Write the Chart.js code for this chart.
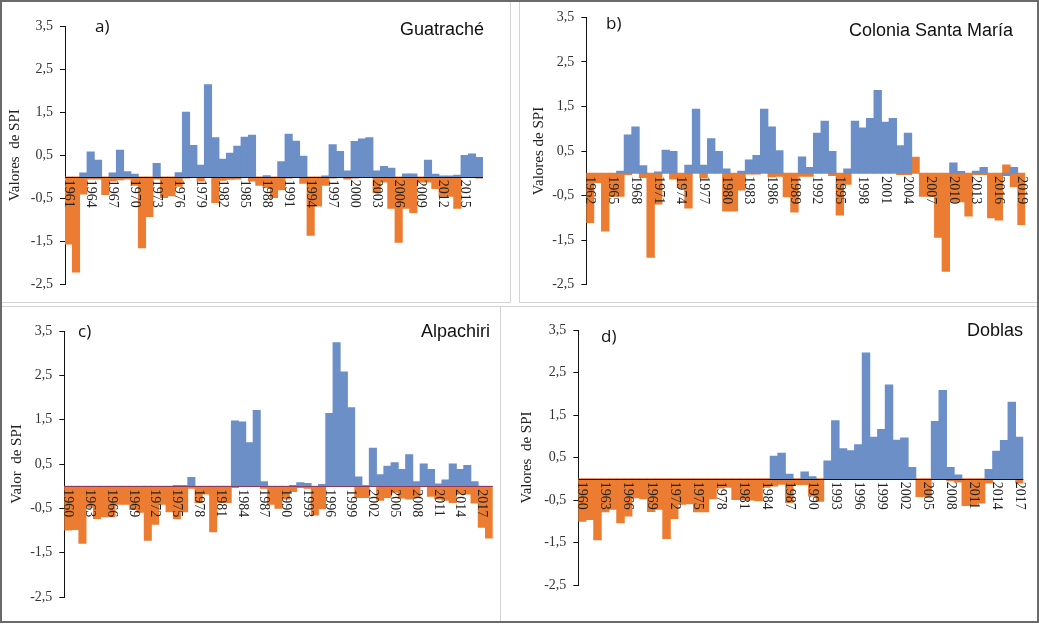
<!DOCTYPE html>
<html>
<head>
<meta charset="utf-8">
<script src="https://cdn.jsdelivr.net/npm/chart.js@4.4.1/dist/chart.umd.min.js"></script>
<style>
  html, body { margin:0; padding:0; background:#fff; }
  body { width:1039px; height:624px; position:relative; overflow:hidden; }
  .frame { position:absolute; left:0; top:0; width:1039px; height:623px; box-sizing:border-box; border:2px solid #6a6a6a; border-right-width:2px; }
  .panel { position:absolute; box-sizing:border-box; border:0 solid #d4d4d4; }
  canvas { position:absolute; }
  .lab { position:absolute; font-family:"Open Sans", sans-serif; font-size:17px; line-height:17px; color:#111; white-space:nowrap; }
  .name { position:absolute; font-family:"Liberation Sans", Arial, sans-serif; font-size:18px; line-height:18px; color:#111; white-space:nowrap; }
</style>
</head>
<body>
<div class="panel" style="left:0;top:0;width:511px;height:303px;border-right-width:1px;border-bottom-width:1px;"></div>
<div class="panel" style="left:519px;top:0;width:520px;height:303px;border-left-width:1px;border-bottom-width:1px;"></div>
<div class="panel" style="left:0;top:306px;width:501px;height:317px;border-top-width:1px;border-right-width:1px;"></div>
<div class="panel" style="left:500px;top:306px;width:539px;height:317px;border-top-width:1px;border-left-width:1px;"></div>
<div class="frame"></div>

<canvas id="ca" width="506" height="298" style="left:2px;top:2px;"></canvas>
<canvas id="cb" width="514" height="298" style="left:521px;top:2px;"></canvas>
<canvas id="cc" width="497" height="312" style="left:2px;top:308px;"></canvas>
<canvas id="cd" width="533" height="312" style="left:502px;top:308px;"></canvas>

<div class="lab" style="left:95px;top:17px;">a)</div>
<div class="name" style="left:400px;top:20px;">Guatraché</div>
<div class="lab" style="left:606px;top:14px;">b)</div>
<div class="name" style="left:849px;top:21px;">Colonia Santa María</div>
<div class="lab" style="left:78px;top:322px;">c)</div>
<div class="name" style="left:421px;top:322px;">Alpachiri</div>
<div class="lab" style="left:601px;top:327px;">d)</div>
<div class="name" style="left:967px;top:321px;">Doblas</div>

<script>
// ---------- Panel a: Guatraché ----------
const yearsA = [1961,1962,1963,1964,1965,1966,1967,1968,1969,1970,1971,1972,1973,1974,1975,1976,1977,1978,1979,1980,
  1981,1982,1983,1984,1985,1986,1987,1988,1989,1990,1991,1992,1993,1994,1995,1996,1997,1998,1999,2000,
  2001,2002,2003,2004,2005,2006,2007,2008,2009,2010,2011,2012,2013,2014,2015,2016,2017];
const wetA = [0,0,0.09,0.58,0.39,0,0.09,0.62,0.12,0.06,
  0,0,0.31,0,0,0.1,1.5,0.73,0.27,2.14,
  0.91,0.41,0.55,0.71,0.92,0.97,0,0.03,0,0.35,
  0.99,0.83,0.48,0,0,0.02,0.75,0.59,0.14,0.82,
  0.88,0.91,0.14,0.24,0.2,0,0.07,0.07,0,0.39,
  0.06,0.02,0.02,0.04,0.5,0.53,0.45];
const dryA = [-1.56,-2.21,-0.4,-0.05,-0.05,-0.41,-0.1,-0.07,-0.05,-0.2,
  -1.65,-0.92,-0.05,-0.48,-0.44,-0.22,-0.03,0,-0.1,0,
  -0.6,-0.08,-0.06,-0.05,-0.02,-0.1,-0.2,-0.25,-0.48,-0.3,
  -0.03,0,-0.15,-1.36,-0.68,-0.2,-0.03,0,-0.05,-0.03,
  0,0,-0.37,-0.12,-0.73,-1.52,-0.73,-0.83,-0.12,-0.12,
  -0.27,-0.45,-0.45,-0.73,-0.02,0,-0.03];
const ticksA = [1961,1964,1967,1970,1973,1976,1979,1982,1985,1988,1991,1994,1997,2000,2003,2006,2009,2012,2015];

// ---------- Panel b: Colonia Santa María ----------
const yearsB = [1962,1963,1964,1965,1966,1967,1968,1969,1970,1971,1972,1973,1974,1975,1976,1977,1978,1979,1980,1981,
  1982,1983,1984,1985,1986,1987,1988,1989,1990,1991,1992,1993,1994,1995,1996,1997,1998,1999,2000,2001,
  2002,2003,2004,2005,2006,2007,2008,2009,2010,2011,2012,2013,2014,2015,2016,2017,2018,2019];
const wetB = [0,0,0,0,0.05,0.86,1.04,0.17,0,0.03,
  0.52,0.49,0,0.18,1.44,0.18,0.78,0.49,0.1,0,
  0.05,0.3,0.4,1.44,1.04,0.51,0,0,0.37,0.13,
  0.9,1.17,0.49,0,0.1,1.17,1.02,1.23,1.86,1.15,
  1.23,0.62,0.9,0,0,0,0,0,0.23,0.04,
  0,0.05,0.13,0,0,-0.05,0.13,0];
const dryB = [-1.11,-0.21,-1.3,-0.52,-0.52,-0.03,0,-0.1,-1.89,-0.69,
  0,-0.13,-0.32,-0.78,0,-0.11,0,0,-0.85,-0.85,
  -0.38,-0.02,-0.02,0,-0.08,-0.07,-0.53,-0.87,-0.07,-0.07,
  0,0,-0.05,-0.94,-0.25,0,0,0,0,0,
  0,-0.03,-0.03,0.36,-0.52,-0.52,-1.44,-2.2,-0.64,-0.64,
  -0.96,-0.03,-0.03,-1.0,-1.05,0.19,-0.3,-1.15];
const ticksB = [1962,1965,1968,1971,1974,1977,1980,1983,1986,1989,1992,1995,1998,2001,2004,2007,2010,2013,2016,2019];

// ---------- Panel c: Alpachiri ----------
const yearsC = [1960,1961,1962,1963,1964,1965,1966,1967,1968,1969,1970,1971,1972,1973,1974,1975,1976,1977,1978,1979,
  1980,1981,1982,1983,1984,1985,1986,1987,1988,1989,1990,1991,1992,1993,1994,1995,1996,1997,1998,1999,
  2000,2001,2002,2003,2004,2005,2006,2007,2008,2009,2010,2011,2012,2013,2014,2015,2016,2017,2018];
const wetC = [0,0,0,0,0,0,0,0,0,0,
  0,0,0,0,0,0.02,0.02,0.2,0,0,
  0,0,0,1.47,1.45,0.98,1.71,0.1,0,0,
  0,0.02,0.08,0.06,0,0.04,1.64,3.24,2.58,1.77,
  0.21,0.02,0.86,0.26,0.45,0.53,0.38,0.71,0.1,0.5,
  0.38,0.05,0.14,0.5,0.38,0.47,0.1,0,0];
const dryC = [-0.99,-0.98,-1.29,-0.48,-0.73,-0.69,-0.69,-0.41,-0.41,-0.53,
  -0.59,-1.22,-0.86,-0.41,-0.58,-0.74,-0.58,-0.05,-0.37,-0.18,
  -1.03,-0.37,-0.37,-0.03,0,0,0,-0.05,-0.41,-0.5,
  -0.29,-0.12,-0.03,-0.05,-0.65,-0.51,0,0,0,0,
  -0.26,-0.26,0,-0.32,-0.26,-0.14,-0.27,-0.29,-0.26,0,
  -0.23,-0.29,-0.32,-0.37,-0.18,-0.18,-0.38,-0.93,-1.17];
const ticksC = [1960,1963,1966,1969,1972,1975,1978,1981,1984,1987,1990,1993,1996,1999,2002,2005,2008,2011,2014,2017];

// ---------- Panel d: Doblas ----------
const yearsD = [1960,1961,1962,1963,1964,1965,1966,1967,1968,1969,1970,1971,1972,1973,1974,1975,1976,1977,1978,1979,
  1980,1981,1982,1983,1984,1985,1986,1987,1988,1989,1990,1991,1992,1993,1994,1995,1996,1997,1998,1999,
  2000,2001,2002,2003,2004,2005,2006,2007,2008,2009,2010,2011,2012,2013,2014,2015,2016,2017];
const wetD = [0,0,0,0,0,0,0,0,0,0,
  0,0,0,0,0,0,0,0,0,0,
  0,0,0,0,0,0.53,0.6,0.11,0,0.16,
  0.05,0,0.42,1.37,0.71,0.66,0.8,2.96,0.98,1.16,
  2.21,0.91,0.96,0.27,0,0,1.35,2.08,0.27,0.09,
  0,0,0,0.22,0.65,0.9,1.8,0.98];
const dryD = [-1.0,-0.96,-1.44,-0.78,-0.72,-1.04,-0.88,-0.45,-0.47,-0.77,
  -0.72,-1.41,-0.94,-0.6,-0.59,-0.78,-0.78,-0.47,-0.22,-0.2,
  -0.49,-0.49,-0.5,-0.52,-0.2,-0.17,-0.13,-0.56,-0.14,-0.14,
  -0.41,-0.53,-0.02,0,0,0,-0.02,0,0,0,
  0,0,0,-0.02,-0.42,-0.42,0,0,-0.05,-0.08,
  -0.63,-0.63,-0.57,-0.1,0,0,0,-0.1];
const ticksD = [1960,1963,1966,1969,1972,1975,1978,1981,1984,1987,1990,1993,1996,1999,2002,2005,2008,2011,2014,2017];

const BLUE = '#6b8fc6';
const ORANGE = '#eb7c31';

const xLabelPlugin = {
  id: 'xlab',
  afterDatasetsDraw(chart, args, opts) {
    const {ctx, chartArea} = chart;
    const xs = chart.scales.x, ys = chart.scales.y;
    const y0 = ys.getPixelForValue(0);
    if (opts.zeroColor) {
      ctx.save();
      ctx.strokeStyle = opts.zeroColor;
      ctx.lineWidth = 1;
      ctx.beginPath();
      ctx.moveTo(chartArea.left, Math.round(y0) + 0.5);
      ctx.lineTo(chartArea.right, Math.round(y0) + 0.5);
      ctx.stroke();
      ctx.restore();
    }
    ctx.save();
    ctx.font = '14px "Liberation Serif", "Times New Roman", serif';
    ctx.fillStyle = '#222';
    ctx.textAlign = 'left';
    ctx.textBaseline = 'middle';
    opts.ticks.forEach(t => {
      const i = opts.years.indexOf(t);
      if (i < 0) return;
      const px = xs.getPixelForValue(i);
      ctx.save();
      ctx.translate(px, y0 + 3);
      ctx.rotate(Math.PI / 2);
      ctx.fillText(String(t), 0, 0);
      ctx.restore();
    });
    ctx.restore();
  }
};

function makePanel(id, years, wet, dry, ticks, yTitle, lay) {
  const nz = v => (v === 0 ? null : v);
  new Chart(document.getElementById(id), {
    type: 'bar',
    data: {
      labels: years.map(String),
      datasets: [
        { data: wet.map(nz), backgroundColor: BLUE, borderWidth: 0, categoryPercentage: 1, barPercentage: 1, inflateAmount: 0.4 },
        { data: dry.map(nz), backgroundColor: ORANGE, borderWidth: 0, categoryPercentage: 1, barPercentage: 1, inflateAmount: 0.4 }
      ]
    },
    options: {
      responsive: false,
      animation: false,
      events: [],
      layout: { padding: { left: lay.pl, top: lay.pt, right: lay.pr, bottom: lay.pb } },
      plugins: {
        legend: { display: false },
        tooltip: { enabled: false },
        xlab: { years: years, ticks: ticks, zeroColor: lay.zero }
      },
      scales: {
        x: { type: 'category', display: false, stacked: true, offset: true },
        y: {
          stacked: false,
          min: -2.5, max: 3.5,
          afterFit(scale) { scale.width = lay.aw; },
          ticks: {
            stepSize: 1,
            padding: 7,
            color: '#333',
            font: { family: '"Liberation Serif", "Times New Roman", serif', size: 14 },
            callback: v => Number(v).toFixed(1).replace('.', ',')
          },
          grid: { drawOnChartArea: false, drawTicks: true, tickLength: 5, color: '#111' },
          border: { display: true, color: '#111', width: 1 },
          title: {
            display: true, text: yTitle, color: '#222',
            font: { family: '"Liberation Serif", "Times New Roman", serif', size: 15 },
            padding: { top: 0, bottom: 0 }
          }
        }
      }
    },
    plugins: [xLabelPlugin]
  });
}

makePanel('ca', yearsA, wetA, dryA, ticksA, 'Valores  de SPI', { pl: 4, aw: 59, pt: 24, pb: 11, pr: 25, zero: '#111' });
makePanel('cb', yearsB, wetB, dryB, ticksB, 'Valores de SPI', { pl: 9, aw: 56.3, pt: 9.3, pb: 14.7, pr: 9.7, zero: null });
makePanel('cc', yearsC, wetC, dryC, ticksC, 'Valor  de SPI', { pl: 6.5, aw: 55.8, pt: 23, pb: 23, pr: 6.3, zero: '#8e3a5e' });
makePanel('cd', yearsD, wetD, dryD, ticksD, 'Valores  de SPI', { pl: 16.5, aw: 59.8, pt: 22, pb: 35, pr: 11.7, zero: '#111' });
</script>
</body>
</html>
